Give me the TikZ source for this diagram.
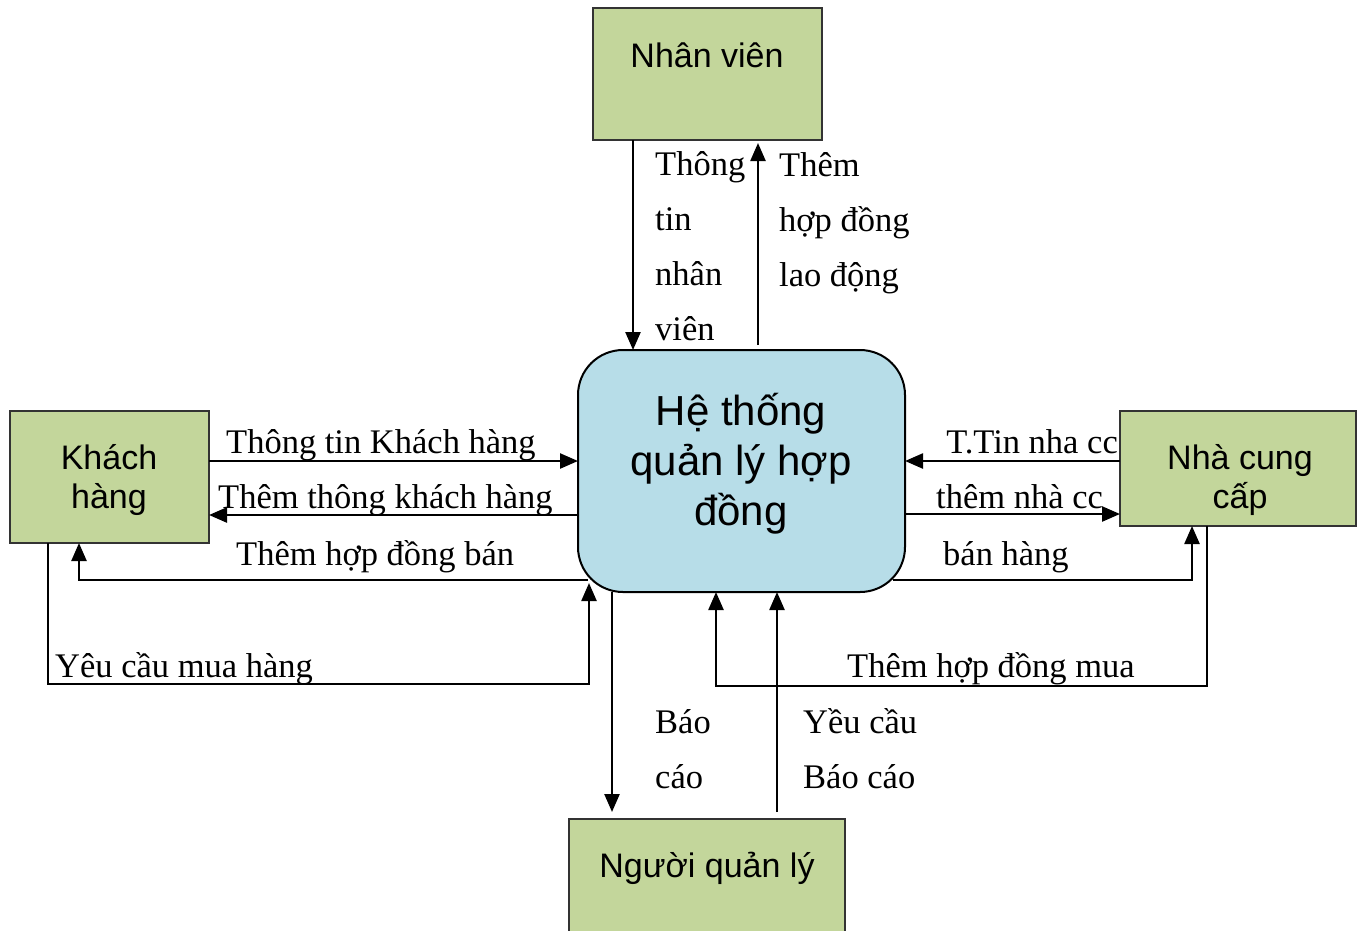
\documentclass[tikz,border=0pt]{standalone}
\usepackage{fontspec}
\setmainfont{Liberation Serif}
\setsansfont{Liberation Sans}
\usetikzlibrary{arrows.meta}
\definecolor{entityfill}{HTML}{C3D69B}
\definecolor{processfill}{HTML}{B7DDE8}
\definecolor{entityline}{HTML}{333333}

\begin{document}
\begin{tikzpicture}[x=1pt,y=-1pt,
  entity/.style={draw=entityline, line width=2pt, fill=entityfill, rectangle, inner sep=0pt, outer sep=0pt},
  process/.style={draw=black, line width=2pt, fill=processfill, rectangle, rounded corners=45pt, inner sep=0pt, outer sep=0pt},
  flow/.style={line width=2.4pt, -{Triangle[length=18pt,width=15pt]}},
  lbl/.style={font=\fontsize{34.5}{55}\selectfont, inner sep=0pt, align=left},
  boxtxt/.style={font=\sffamily\fontsize{34}{39}\selectfont, inner sep=0pt, align=center},
  proctxt/.style={font=\sffamily\fontsize{42}{50}\selectfont, inner sep=0pt, align=center},
]
\clip (0,0) rectangle (1357,930);

% external entities and the central process
\node[entity, minimum width=229pt, minimum height=132pt] (nv) at (707.5,74) {};
\node[entity, minimum width=199pt, minimum height=132pt] (kh) at (109.5,477) {};
\node[entity, minimum width=236pt, minimum height=115pt] (nc) at (1238,468.5) {};
\node[entity, minimum width=276pt, minimum height=130pt] (nq) at (707,884) {};
\node[process, minimum width=327pt, minimum height=242pt] (hq) at (741.5,471) {};

% box captions (multi-line nodes are placed by their last baseline)
\node[boxtxt, anchor=base] (nvT) at (707,67) {Nhân viên};
\node[boxtxt, anchor=base] (khT) at (109,508) {Khách\\hàng};
\node[boxtxt, anchor=base] (ncT) at (1240,508) {Nhà cung\\cấp};
\node[boxtxt, anchor=base] (nqT) at (707,877) {Người quản lý};
\node[proctxt, anchor=base] (hqT) at (741,525) {Hệ thống\\quản lý hợp\\đồng};

% staff flows
\draw[flow] ([xshift=-74.5pt]nv.south) -- ([xshift=-108.5pt]hq.north);
\draw[flow] ([xshift=16.5pt,yshift=5pt]hq.north) -- ([xshift=50.5pt,yshift=-3pt]nv.south);

% customer flows
\draw[flow] ([yshift=16pt]kh.east) -- ([yshift=10pt]hq.west);
\draw[flow] ([yshift=-44pt]hq.west) -- ([yshift=-38pt]kh.east);
\draw[flow] ([shift={(10pt,12pt)}]hq.south west) -| ([xshift=-30.5pt]kh.south);
\coordinate (kbend) at (589,684);
\draw[flow] ([xshift=-61.5pt]kh.south) |- (kbend) -- ([shift={(11pt,9pt)}]hq.south west);

% supplier flows
\draw[flow] ([yshift=7.5pt]nc.west) -- ([yshift=10pt]hq.east);
\draw[flow] ([yshift=-43pt]hq.east) -- ([yshift=-45.5pt]nc.west);
\draw[flow] ([shift={(-12pt,12pt)}]hq.south east) -| ([xshift=-46pt]nc.south);
\coordinate (sbend) at (716,686);
\draw[flow] ([xshift=-31pt]nc.south) |- (sbend) -- ([xshift=-25.5pt]hq.south);

% manager flows
\draw[flow] ([xshift=-129.5pt]hq.south) -- ([xshift=-95pt,yshift=7pt]nq.north);
\draw[flow] ([xshift=70pt,yshift=7pt]nq.north) -- ([xshift=35.5pt]hq.south);

% flow labels (multi-line nodes are placed by their last baseline)
\node[lbl, anchor=base west] (l1) at (655,340) {Thông\\tin\\nhân\\viên};
\node[lbl, anchor=base west] (l2) at (779,286) {Thêm\\hợp đồng\\lao động};
\node[lbl, anchor=base west] (l3) at (226,453) {Thông tin Khách hàng};
\node[lbl, anchor=base west] (l4) at (218,508) {Thêm thông khách hàng};
\node[lbl, anchor=base west] (l5) at (236,565) {Thêm hợp đồng bán};
\node[lbl, anchor=base west] (l6) at (55,677) {Yêu cầu mua hàng};
\node[lbl, anchor=base east] (l7) at (1118,453) {T.Tin nha cc};
\node[lbl, anchor=base west] (l8) at (936,508) {thêm nhà cc};
\node[lbl, anchor=base west] (l9) at (943,565) {bán hàng};
\node[lbl, anchor=base west] (l10) at (847,677) {Thêm hợp đồng mua};
\node[lbl, anchor=base west] (l11) at (655,788) {Báo\\cáo};
\node[lbl, anchor=base west] (l12) at (803,788) {Yều cầu\\Báo cáo};
\end{tikzpicture}
\end{document}
